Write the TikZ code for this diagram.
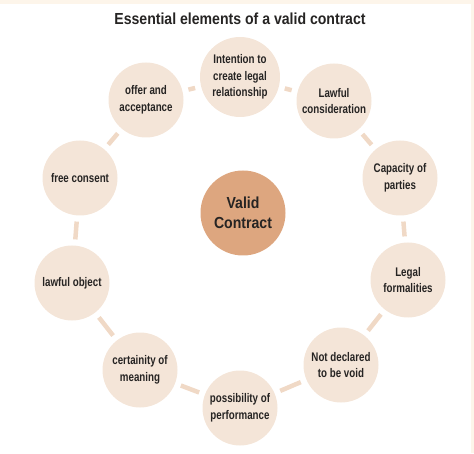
\documentclass[tikz,border=0pt]{standalone}
\usepackage{fontspec}
\setmainfont{Liberation Sans}
\newfontfamily\condfont[FakeStretch=0.78]{Liberation Sans}
\usepackage{tikz}
\usetikzlibrary{positioning}
\usepackage{xcolor}
\definecolor{ringfill}{HTML}{F4E5D8}
\definecolor{hubfill}{HTML}{DDA67F}
\definecolor{linkcol}{HTML}{F0D9C6}
\definecolor{inkcol}{HTML}{262423}
\definecolor{creamcol}{HTML}{FDF5EA}

\begin{document}
\begin{tikzpicture}[
  x=1pt, y=1pt,
  elem/.style={circle, fill=ringfill, inner sep=0pt, minimum size=75pt,
               align=center, text=inkcol, font=\condfont\bfseries\fontsize{12.5}{16.5}\selectfont},
  hub/.style={circle, fill=hubfill, inner sep=0pt, minimum size=85pt,
              align=center, text=inkcol, font=\bfseries\fontsize{16}{20}\selectfont},
  link/.style={draw=linkcol, line width=4.5pt, shorten >=6pt, shorten <=6pt}
]
\useasboundingbox (0,0) rectangle (474,453);
\fill[creamcol] (0,449) rectangle (474,453);
\fill[creamcol] (471,0) rectangle (474,453);

\node[text=inkcol, font=\bfseries\fontsize{16}{19}\selectfont] (title) at (240,434)
  {\addfontfeature{FakeStretch=0.88}Essential elements of a valid contract};

\node[hub] (valid) at (243,240) {\addfontfeature{FakeStretch=0.88}Valid\\
  \addfontfeature{FakeStretch=0.88}Contract};

\node[elem, minimum size=80pt] (intent) at (240,376) {Intention to\\create legal\\relationship};
\node[elem] (lawcons) at (334,352) {Lawful\\consideration};
\node[elem] (capac) at (400,275) {Capacity of\\parties};
\node[elem] (legal) at (408,173) {Legal\\formalities};
\node[elem] (notvoid) at (341,88) {Not declared\\to be void};
\node[elem] (perform) at (240,45) {possibility of\\performance};
\node[elem] (meaning) at (140,83) {certainity of\\meaning};
\node[elem] (object) at (72,170) {lawful object};
\node[elem] (consent) at (80,275) {free consent};
\node[elem] (offer) at (146,353) {offer and\\acceptance};

\draw[link] (intent) -- (lawcons);
\draw[link] (lawcons) -- (capac);
\draw[link] (capac) -- (legal);
\draw[link] (legal) -- (notvoid);
\draw[link] (notvoid) -- (perform);
\draw[link] (perform) -- (meaning);
\draw[link] (meaning) -- (object);
\draw[link] (object) -- (consent);
\draw[link] (consent) -- (offer);
\draw[link] (offer) -- (intent);
\end{tikzpicture}
\end{document}
